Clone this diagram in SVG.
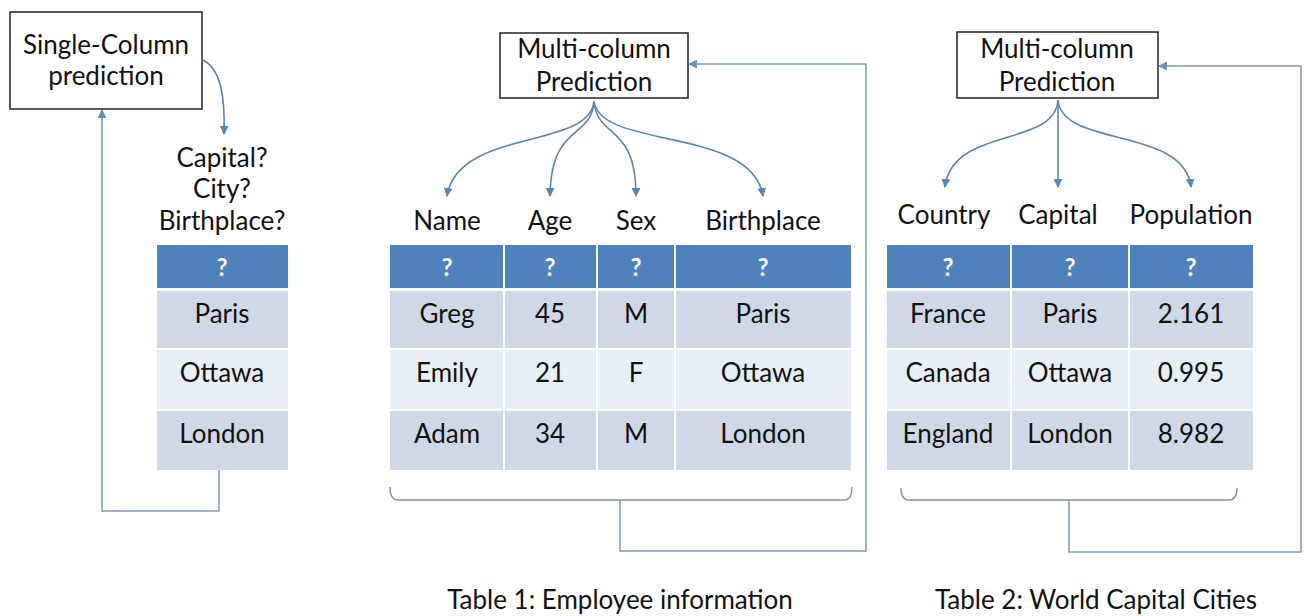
<svg xmlns="http://www.w3.org/2000/svg" width="1304" height="616" viewBox="0 0 1304 616">
  <defs>
    <marker id="tip" viewBox="0 0 10 10" refX="9" refY="5" markerWidth="9" markerHeight="9" markerUnits="userSpaceOnUse" orient="auto">
      <path d="M0,0 L10,5 L0,10 z" fill="#5b86ad"/>
    </marker>
    <marker id="tipGray" viewBox="0 0 10 10" refX="9" refY="5" markerWidth="9" markerHeight="9" markerUnits="userSpaceOnUse" orient="auto">
      <path d="M0,0 L10,5 L0,10 z" fill="#6f8fae"/>
    </marker>
  </defs>
  <style>
    text { font-family: Lato, "Liberation Sans", sans-serif; font-size: 26px; fill: #111; text-anchor: middle; }
    .q { fill: #fff; font-weight: bold; font-size: 24px; }
    .box { fill: #fff; stroke: #222; stroke-width: 1.5; }
    .hd { fill: #4f81bd; }
    .r1 { fill: #d0d8e8; }
    .r2 { fill: #e9edf4; }
    .arr { fill: none; stroke: #5b86ad; stroke-width: 1.6; marker-end: url(#tip); }
    .fb { fill: none; stroke: #7f98ae; stroke-width: 1.5; }
    .fba { fill: none; stroke: #7f98ae; stroke-width: 1.5; marker-end: url(#tipGray); }
  </style>
  <rect width="1304" height="616" fill="#fff"/>

  <!-- single column prediction -->
  <g id="single-box">
    <rect class="box" x="10" y="12" width="192" height="97"/>
    <text x="106" y="54">Single-Column</text>
    <text x="106" y="85">prediction</text>
  </g>
  <g id="single-labels">
    <text x="222" y="167">Capital?</text>
    <text x="222" y="198">City?</text>
    <text x="222" y="230">Birthplace?</text>
  </g>
  <g id="single-table">
    <rect class="hd" x="157" y="245" width="131" height="43"/>
    <rect class="r1" x="157" y="291" width="131" height="57"/>
    <rect class="r2" x="157" y="350" width="131" height="59"/>
    <rect class="r1" x="157" y="411" width="131" height="59"/>
    <text class="q" x="222" y="276">?</text>
    <text x="222" y="323">Paris</text>
    <text x="222" y="382">Ottawa</text>
    <text x="222" y="443">London</text>
  </g>

  <!-- table 1 -->
  <g id="multi-box-1">
    <rect class="box" x="500" y="33" width="188" height="65"/>
    <text x="594" y="58">Multi-column</text>
    <text x="594" y="91">Prediction</text>
  </g>
  <g id="table1-labels">
    <text x="447" y="230">Name</text>
    <text x="550" y="230">Age</text>
    <text x="636" y="230">Sex</text>
    <text x="763" y="230">Birthplace</text>
  </g>
  <g id="table1">
    <rect class="hd" x="390" y="245" width="113" height="43"/>
    <rect class="hd" x="505" y="245" width="91" height="43"/>
    <rect class="hd" x="598" y="245" width="76" height="43"/>
    <rect class="hd" x="676" y="245" width="175" height="43"/>
    <rect class="r1" x="390" y="291" width="113" height="57"/>
    <rect class="r1" x="505" y="291" width="91" height="57"/>
    <rect class="r1" x="598" y="291" width="76" height="57"/>
    <rect class="r1" x="676" y="291" width="175" height="57"/>
    <rect class="r2" x="390" y="350" width="113" height="59"/>
    <rect class="r2" x="505" y="350" width="91" height="59"/>
    <rect class="r2" x="598" y="350" width="76" height="59"/>
    <rect class="r2" x="676" y="350" width="175" height="59"/>
    <rect class="r1" x="390" y="411" width="113" height="59"/>
    <rect class="r1" x="505" y="411" width="91" height="59"/>
    <rect class="r1" x="598" y="411" width="76" height="59"/>
    <rect class="r1" x="676" y="411" width="175" height="59"/>
    <text class="q" x="447" y="276">?</text>
    <text class="q" x="550" y="276">?</text>
    <text class="q" x="636" y="276">?</text>
    <text class="q" x="763" y="276">?</text>
    <text x="447" y="323">Greg</text>
    <text x="550" y="323">45</text>
    <text x="636" y="323">M</text>
    <text x="763" y="323">Paris</text>
    <text x="447" y="382">Emily</text>
    <text x="550" y="382">21</text>
    <text x="636" y="382">F</text>
    <text x="763" y="382">Ottawa</text>
    <text x="447" y="443">Adam</text>
    <text x="550" y="443">34</text>
    <text x="636" y="443">M</text>
    <text x="763" y="443">London</text>
  </g>
  <g id="caption-1">
    <text x="620" y="609">Table 1: Employee information</text>
  </g>

  <!-- table 2 -->
  <g id="multi-box-2">
    <rect class="box" x="957" y="32" width="201" height="66"/>
    <text x="1057" y="58">Multi-column</text>
    <text x="1057" y="91">Prediction</text>
  </g>
  <g id="table2-labels">
    <text x="944" y="224">Country</text>
    <text x="1058" y="224">Capital</text>
    <text x="1191" y="224">Population</text>
  </g>
  <g id="table2">
    <rect class="hd" x="887" y="245" width="123" height="43"/>
    <rect class="hd" x="1012" y="245" width="116" height="43"/>
    <rect class="hd" x="1130" y="245" width="123" height="43"/>
    <rect class="r1" x="887" y="291" width="123" height="57"/>
    <rect class="r1" x="1012" y="291" width="116" height="57"/>
    <rect class="r1" x="1130" y="291" width="123" height="57"/>
    <rect class="r2" x="887" y="350" width="123" height="59"/>
    <rect class="r2" x="1012" y="350" width="116" height="59"/>
    <rect class="r2" x="1130" y="350" width="123" height="59"/>
    <rect class="r1" x="887" y="411" width="123" height="59"/>
    <rect class="r1" x="1012" y="411" width="116" height="59"/>
    <rect class="r1" x="1130" y="411" width="123" height="59"/>
    <text class="q" x="948" y="276">?</text>
    <text class="q" x="1070" y="276">?</text>
    <text class="q" x="1191" y="276">?</text>
    <text x="948" y="323">France</text>
    <text x="1070" y="323">Paris</text>
    <text x="1191" y="323">2.161</text>
    <text x="948" y="382">Canada</text>
    <text x="1070" y="382">Ottawa</text>
    <text x="1191" y="382">0.995</text>
    <text x="948" y="443">England</text>
    <text x="1070" y="443">London</text>
    <text x="1191" y="443">8.982</text>
  </g>
  <g id="caption-2">
    <text x="1096" y="609">Table 2: World Capital Cities</text>
  </g>

  <!-- connectors -->
  <g id="connectors">
    <path class="arr" d="M203,60 C222,70 225,100 224,134"/>
    <path class="fba" d="M219,470 V511 H102 V110"/>

    <path class="arr" d="M594,101 C590,150 458,128 447,196"/>
    <path class="arr" d="M594,101 C592,140 551,122 550,196"/>
    <path class="arr" d="M594,101 C597,140 636,122 636,196"/>
    <path class="arr" d="M594,101 C600,150 752,126 763,196"/>
    <path class="fb" d="M390,487 Q390,500 398,500 H844 Q852,500 852,487"/>
    <path class="fba" d="M620,500 V551 H866 V64 H689"/>

    <path class="arr" d="M1058,100 C1055,148 952,126 945,187"/>
    <path class="arr" d="M1058,100 V187"/>
    <path class="arr" d="M1058,100 C1062,148 1184,126 1191,187"/>
    <path class="fb" d="M901,488 Q901,500 909,500 H1229 Q1237,500 1237,488"/>
    <path class="fba" d="M1069,500 V552 H1301 V66 H1159"/>
  </g>
</svg>
